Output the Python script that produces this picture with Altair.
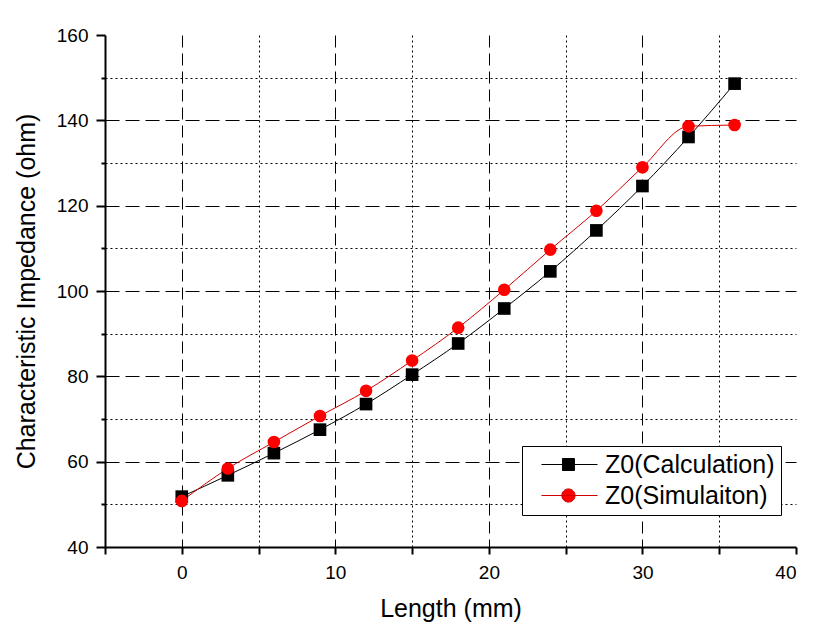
import altair as alt
import pandas as pd

lengths = [0, 3, 6, 9, 12, 15, 18, 21, 24, 27, 30, 33, 36]
calc_vals = [51.8, 56.8, 62.0, 67.5, 73.5, 80.4, 87.7, 95.9, 104.6, 114.2, 124.6, 136.1, 148.6]
sim_vals = [50.8, 58.4, 64.6, 70.7, 76.6, 83.7, 91.4, 100.3, 109.7, 118.8, 129.0, 138.6, 138.9]
series_names = ["Z0(Calculation)", "Z0(Simulaiton)"]
x_ticks = list(range(-5, 41, 5))
y_ticks = list(range(40, 161, 10))

rows = []
for name, vals in zip(series_names, [calc_vals, sim_vals]):
    for xv, yv in zip(lengths, vals):
        rows.append({"Length": xv, "Z0": yv, "Series": name})
df = pd.DataFrame(rows)

FONT = "Liberation Sans"

x_enc = alt.X(
    "Length:Q",
    scale=alt.Scale(domain=[-5, 40], nice=False, zero=False),
    axis=alt.Axis(
        title="Length (mm)",
        values=x_ticks,
        labelExpr="datum.value % 10 === 0 ? datum.label : ''",
        grid=True,
        gridColor="black",
        gridWidth=1,
        gridDash={"condition": {"test": "datum.value % 10 === 0", "value": [12, 6]}, "value": [2, 3]},
        gridOpacity={"condition": {"test": "datum.value === -5 || datum.value === 40", "value": 0}, "value": 1},
        tickSize=7,
        tickWidth=2,
        tickColor="black",
        domainColor="black",
        domainWidth=2,
        labelFont=FONT,
        labelFontSize=19,
        labelColor="black",
        labelPadding=9,
        titleFont=FONT,
        titleFontSize=25,
        titleFontWeight="normal",
        titleColor="black",
        titlePadding=14,
    ),
)
y_enc = alt.Y(
    "Z0:Q",
    scale=alt.Scale(domain=[40, 160], nice=False, zero=False),
    axis=alt.Axis(
        title="Characteristic Impedance (ohm)",
        values=y_ticks,
        labelExpr="datum.value % 20 === 0 ? datum.label : ''",
        grid=True,
        gridColor="black",
        gridWidth=1,
        gridDash={"condition": {"test": "datum.value % 20 === 0", "value": [14, 6]}, "value": [2, 3]},
        gridOpacity={"condition": {"test": "datum.value === 40 || datum.value === 160", "value": 0}, "value": 1},
        tickSize={"condition": {"test": "datum.value % 20 === 0", "value": 9}, "value": 4},
        tickWidth=2,
        tickColor="black",
        domainColor="black",
        domainWidth=2,
        labelFont=FONT,
        labelFontSize=19,
        labelColor="black",
        labelPadding=8,
        titleFont=FONT,
        titleFontSize=25,
        titleFontWeight="normal",
        titleColor="black",
        titlePadding=17,
    ),
)

# legend glyphs: a short line with the marker in its middle (units of the symbol radius)
calc_path = "M0.08,0H4.75M1.83,-0.5H2.83V0.5H1.83Z"
sim_path = "M0.08,0H4.75M2.88,0A0.55,0.55,0,1,1,1.78,0A0.55,0.55,0,1,1,2.88,0Z"

legend_cfg = alt.Legend(
    title=None,
    orient="none",
    legendX=417,
    legendY=411,
    labelFont=FONT,
    labelFontSize=25,
    labelColor="black",
    labelOffset=52,
    labelLimit=400,
    symbolSize=576,
    symbolStrokeWidth=1,
    symbolOpacity=1,
    rowPadding=5,
    padding=6,
    strokeColor="black",
    fillColor="white",
)

lines = alt.Chart(df).mark_line(strokeWidth=1, interpolate="monotone").encode(
    x=x_enc,
    y=y_enc,
    stroke=alt.Stroke("Series:N", scale=alt.Scale(domain=series_names, range=["black", "#d00000"]), legend=None),
    detail="Series:N",
)

points = alt.Chart(df).mark_point(filled=True, size=160, opacity=1).encode(
    x=x_enc,
    y=y_enc,
    fill=alt.Fill("Series:N", scale=alt.Scale(domain=series_names, range=["black", "#ff0000"]), legend=None),
    shape=alt.Shape("Series:N", scale=alt.Scale(domain=series_names, range=["square", "circle"]), legend=None),
)

legend_layer = alt.Chart(df).transform_filter("datum.Length < -100").mark_point(
    filled=True, strokeWidth=1, opacity=1
).encode(
    x=x_enc,
    y=y_enc,
    shape=alt.Shape("Series:N", scale=alt.Scale(domain=series_names, range=[calc_path, sim_path]), legend=legend_cfg),
    fill=alt.Fill("Series:N", scale=alt.Scale(domain=series_names, range=["black", "#ff0000"]), legend=legend_cfg),
    stroke=alt.Stroke("Series:N", scale=alt.Scale(domain=series_names, range=["black", "#d00000"]), legend=legend_cfg),
)

chart = alt.layer(lines, points, legend_layer).resolve_scale(
    shape="independent", fill="independent", stroke="independent"
).properties(
    width=691,
    height=512,
    autosize=alt.AutoSizeParams(type="none"),
    padding={"left": 105, "top": 35, "right": 22, "bottom": 88},
    background="white",
).configure_view(stroke=None)

chart.save("out.html", embed_options={"renderer": "svg", "actions": False})
